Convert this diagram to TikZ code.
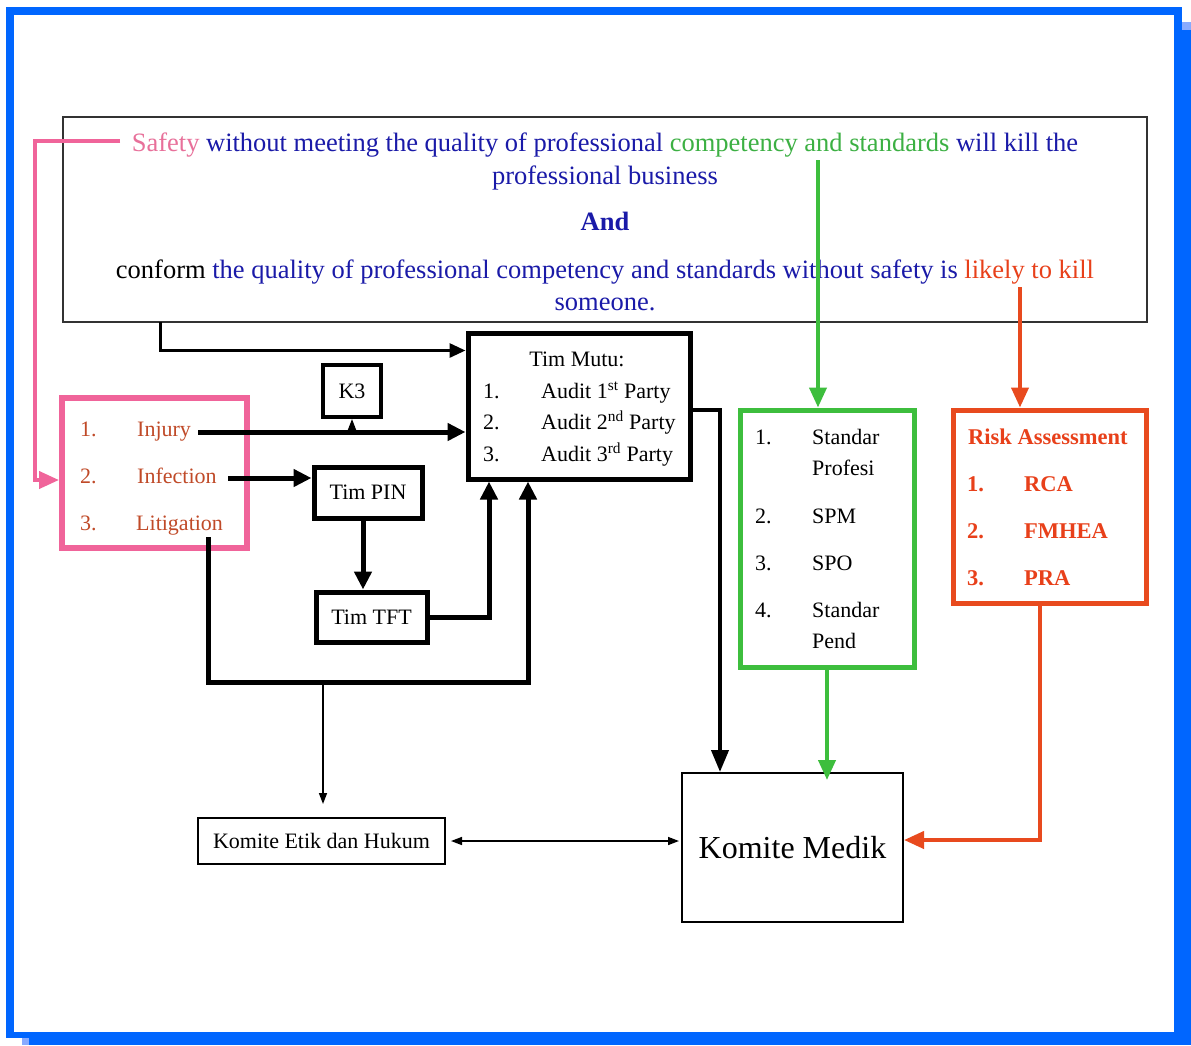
\documentclass[tikz,border=0pt]{standalone}
\usepackage{fontspec}
\setmainfont{Liberation Serif}
\usetikzlibrary{arrows.meta}

\definecolor{frameblue}{HTML}{0066FF}
\definecolor{framelight}{HTML}{88AAFF}
\definecolor{spink}{HTML}{E8709A}
\definecolor{boxpink}{HTML}{F0649A}
\definecolor{tblue}{HTML}{1A1AA8}
\definecolor{tgreen}{HTML}{3CB043}
\definecolor{boxgreen}{HTML}{3DBE3D}
\definecolor{tred}{HTML}{E8401A}
\definecolor{boxred}{HTML}{E84A1E}
\definecolor{itembrown}{HTML}{C04A28}

\tikzset{
  box/.style={draw, inner sep=0pt, line width=#1},
  box/.default=5pt,
  txt/.style={inner sep=0pt, anchor=base west, font=\fontsize{22}{26}\selectfont},
  toptxt/.style={inner sep=0pt, anchor=base, font=\fontsize{26.5}{30}\selectfont},
  heavy/.style={line width=5pt, -{Triangle[length=18pt,width=17pt]}},
  medium/.style={line width=3pt, -{Triangle[length=16pt,width=14pt]}},
  fine/.style={line width=1.5pt, -{Triangle[length=11pt,width=8pt]}},
  colline/.style={line width=4pt, draw=#1, -{Triangle[length=20pt,width=17pt]}},
}

\begin{document}
\begin{tikzpicture}[x=1pt,y=-1pt]
\useasboundingbox (0,0) rectangle (1191,1045);

% blue frame with its drop shadow
\fill[framelight] (22,22) rectangle (1191,1045);
\fill[frameblue] (29,30) rectangle (1191,1045);
\fill[frameblue] (6,7) rectangle (1182,1038);
\fill[white] (14,15) rectangle (1174,1032);

% statement box
\node[box=1.5pt, draw=black!80, minimum width=1084pt, minimum height=205pt] (top) at (605,219.5) {};
\node[toptxt] (t1) at (605,151) {\textcolor{spink}{Safety} \textcolor{tblue}{without meeting the quality of professional} \textcolor{tgreen}{competency and standards} \textcolor{tblue}{will kill the}};
\node[toptxt, text=tblue] (t2) at (605,184) {professional business};
\node[toptxt, text=tblue] (t3) at (605,230) {\textbf{And}};
\node[toptxt] (t4) at (605,278) {conform \textcolor{tblue}{the quality of professional competency and standards without safety is} \textcolor{tred}{likely to kill}};
\node[toptxt, text=tblue] (t5) at (605,310) {someone.};

% incident box
\node[box=6pt, draw=boxpink, minimum width=185pt, minimum height=150pt] (pink) at (154.5,473) {};
\begin{scope}[every node/.style={txt, text=itembrown}]
  \node (pn1) at (80,436) {1.};
  \node (injury) at (137,436) {Injury};
  \node (pn2) at (80,483) {2.};
  \node (infection) at (137,483) {Infection};
  \node (pn3) at (80,530) {3.};
  \node (litigation) at (136,530) {Litigation};
\end{scope}

% teams
\node[box=4pt, minimum width=58pt, minimum height=52pt, font=\fontsize{22}{26}\selectfont] (k3) at (352,391) {K3};
\node[box=5pt, minimum width=222pt, minimum height=146pt] (mutu) at (579,406) {};
\node[toptxt, font=\fontsize{22}{26}\selectfont] (mutuh) at (577,366) {Tim Mutu:};
\begin{scope}[every node/.style={txt}]
  \node (mn1) at (483,398) {1.};
  \node (m1) at (541,398) {Audit 1\textsuperscript{st} Party};
  \node (mn2) at (483,429) {2.};
  \node (m2) at (541,429) {Audit 2\textsuperscript{nd} Party};
  \node (mn3) at (483,461) {3.};
  \node (m3) at (541,461) {Audit 3\textsuperscript{rd} Party};
\end{scope}
\node[box=5pt, minimum width=108pt, minimum height=51pt, font=\fontsize{22}{26}\selectfont] (pin) at (368,492.5) {Tim PIN};
\node[box=5pt, minimum width=111pt, minimum height=50pt, font=\fontsize{22}{26}\selectfont] (tft) at (371.5,617) {Tim TFT};

% standards box
\node[box=5pt, draw=boxgreen, minimum width=174pt, minimum height=257pt] (gbox) at (827,538.5) {};
\begin{scope}[every node/.style={txt}]
  \node (gn1) at (755,444) {1.};
  \node (g1a) at (812,444) {Standar};
  \node (g1b) at (812,475) {Profesi};
  \node (gn2) at (755,523) {2.};
  \node (g2) at (812,523) {SPM};
  \node (gn3) at (755,570) {3.};
  \node (g3) at (812,570) {SPO};
  \node (gn4) at (755,617) {4.};
  \node (g4a) at (812,617) {Standar};
  \node (g4b) at (812,648) {Pend};
\end{scope}

% risk box
\node[box=5pt, draw=boxred, minimum width=193pt, minimum height=193pt] (rbox) at (1049.5,506.5) {};
\begin{scope}[every node/.style={txt, text=tred, font=\fontsize{22.5}{26}\selectfont\bfseries}]
  \node (rh) at (968,444) {Risk Assessment};
  \node (rn1) at (967,491) {1.};
  \node (r1) at (1024,491) {RCA};
  \node (rn2) at (967,538) {2.};
  \node (r2) at (1024,538) {FMHEA};
  \node (rn3) at (967,585) {3.};
  \node (r3) at (1024,585) {PRA};
\end{scope}

% committees
\node[box=2pt, minimum width=247pt, minimum height=46pt, font=\fontsize{22}{26}\selectfont] (etik) at (321.5,841) {Komite Etik dan Hukum};
\node[box=2pt, minimum width=221pt, minimum height=149pt, font=\fontsize{32}{36}\selectfont] (medik) at (792.5,847.5) {Komite Medik};

% connector ends and bends
\coordinate (s0) at (120,141);
\coordinate (c0) at (160,322);
\coordinate (j0) at (198,432);
\coordinate (f0) at (228,478);
\coordinate (l0) at (208,537);
\coordinate (lb) at (528,682);
\coordinate (e0) at (323,682);
\coordinate (g0) at (818,160);
\coordinate (r0) at (1020,287);

% coloured flows
\draw[colline=boxpink, line width=4pt] (s0) -- (35,141) -- (35,480) -- (pink.west |- 0,480);
\draw[colline=boxgreen] (g0) -- (g0 |- gbox.north);
\draw[colline=boxgreen, shorten >=-8pt] (gbox.south) -- (gbox.south |- medik.north);
\draw[colline=boxred] (r0) -- (r0 |- rbox.north);
\draw[colline=boxred] ([xshift=-9.5pt]rbox.south) |- ([yshift=7.5pt]medik.east);

% black flows
\draw[medium] (c0) |- ([yshift=-20pt]mutu.north west);
\draw[heavy] (j0) -- (j0 -| mutu.west);
\draw[fine] (j0 -| k3.south) -- (k3.south);
\draw[heavy] (f0) -- (f0 -| pin.west);
\draw[heavy] ([xshift=-5pt]pin.south) -- ([xshift=-5pt]pin.south |- tft.north);
\draw[heavy] (tft.east) -| ([xshift=-90pt]mutu.south);
\draw[heavy] (l0) |- (lb) -- (lb |- mutu.south);
\draw[fine] (e0) -- (e0 |- etik.north) [shorten >=13pt];
\draw[heavy, line width=4pt, -{Triangle[length=22pt,width=17pt]}] ([yshift=-4pt]mutu.east) -| ([xshift=-72.5pt]medik.north);
\draw[line width=1.5pt, {Triangle[length=11pt,width=8pt]}-{Triangle[length=11pt,width=8pt]}, shorten <=5pt, shorten >=2pt] (etik.east) -- (etik.east -| medik.west);
\end{tikzpicture}
\end{document}
